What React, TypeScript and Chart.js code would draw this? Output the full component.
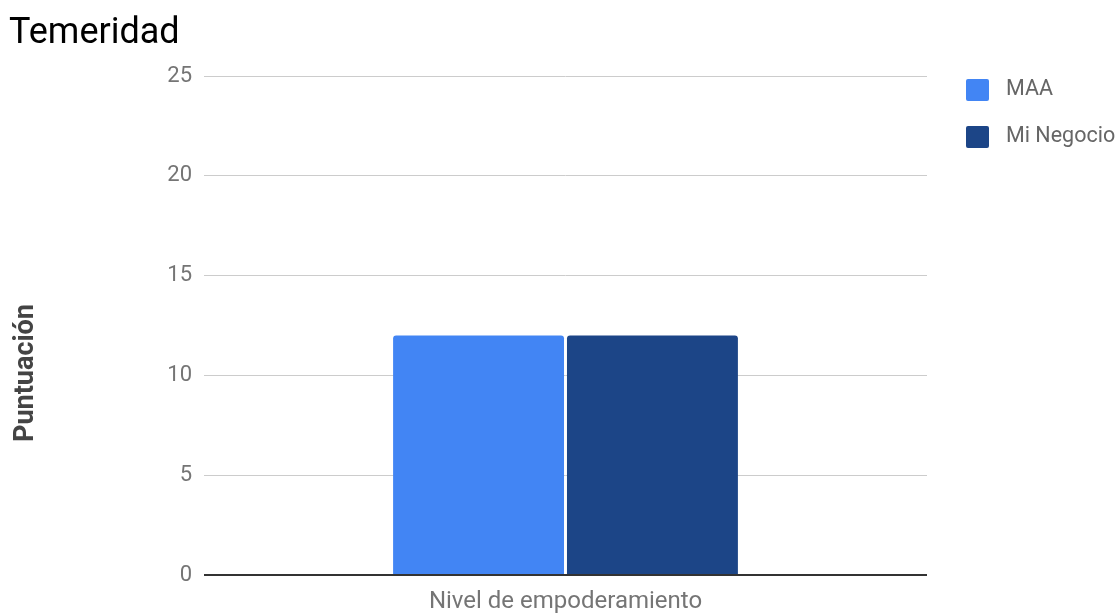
import React, { useEffect, useRef } from "react";
import { Chart, registerables } from "chart.js";

Chart.register(...registerables);

const chartTitle = "Temeridad";
const yAxisTitle = "Puntuación";
const categories = ["Nivel de empoderamiento"];
const seriesLabels = ["MAA", "Mi Negocio"];
const maaValues = [12];
const miNegocioValues = [12];
const seriesColors = ["#4285f4", "#1c4587"];
const yMin = 0;
const yMax = 25;
const yStep = 5;

const W = 1119;
const H = 614;
const FONT = "Roboto, 'Noto Sans', sans-serif";

const yTitlePlugin = {
  id: "yTitle",
  afterDraw(chart: any) {
    const ctx = chart.ctx;
    ctx.save();
    ctx.translate(26, 373);
    ctx.rotate(-Math.PI / 2);
    ctx.font = `bold 27px ${FONT}`;
    ctx.fillStyle = "#444444";
    ctx.textAlign = "center";
    ctx.textBaseline = "middle";
    ctx.fillText(yAxisTitle, 0, 0);
    ctx.restore();
  },
};

const legendPlugin = {
  id: "sideLegend",
  afterDraw(chart: any) {
    const ctx = chart.ctx;
    ctx.save();
    chart.data.datasets.forEach((ds: any, i: number) => {
      const x = 966;
      const cy = 90 + 47 * i;
      ctx.fillStyle = ds.backgroundColor;
      ctx.beginPath();
      (ctx as any).roundRect(x, cy - 11, 23, 22, 2);
      ctx.fill();
      ctx.font = `21.5px ${FONT}`;
      ctx.fillStyle = "#666666";
      ctx.textAlign = "left";
      ctx.textBaseline = "middle";
      ctx.fillText(ds.label, 1006, cy);
    });
    ctx.restore();
  },
};

export default function App() {
  const ref = useRef<HTMLCanvasElement>(null);
  useEffect(() => {
    if (!ref.current) return;
    const chart = new Chart(ref.current, {
      type: "bar",
      data: {
        labels: categories,
        datasets: [
          {
            label: seriesLabels[0],
            data: maaValues,
            backgroundColor: seriesColors[0],
            borderRadius: 3,
          },
          {
            label: seriesLabels[1],
            data: miNegocioValues,
            backgroundColor: seriesColors[1],
            borderRadius: 3,
          },
        ],
      },
      options: {
        responsive: false,
        animation: false,
        layout: { padding: { left: 9, right: W - 927, top: 0, bottom: 0 } },
        datasets: {
          bar: { categoryPercentage: 0.481, barPercentage: 0.983 },
        },
        plugins: {
          legend: { display: false },
          tooltip: { enabled: false },
          title: {
            display: true,
            text: chartTitle,
            align: "start",
            color: "#000000",
            font: { family: FONT, size: 36, weight: "normal" },
            padding: { top: 12, bottom: 21 },
          },
        },
        scales: {
          x: {
            grid: { display: false },
            border: { display: false },
            ticks: {
              color: "#757575",
              font: { family: FONT, size: 24 },
              padding: 5,
            },
            afterFit(scale: any) {
              scale.height = H - 575;
            },
          },
          y: {
            min: yMin,
            max: yMax,
            border: { display: false },
            grid: {
              drawTicks: false,
              color: (c: any) => (c.tick && c.tick.value === 0 ? "#333333" : "#cccccc"),
              lineWidth: (c: any) => (c.tick && c.tick.value === 0 ? 2 : 1),
            },
            ticks: {
              stepSize: yStep,
              color: "#757575",
              font: { family: FONT, size: 22 },
              padding: 12,
            },
            afterFit(scale: any) {
              scale.width = 204 - 9;
            },
          },
        },
      },
      plugins: [yTitlePlugin, legendPlugin],
    });
    return () => chart.destroy();
  }, []);
  return (
    <div style={{ position: "absolute", left: 0, top: 0, width: W, height: H, background: "#fff" }}>
      <canvas ref={ref} width={W} height={H} style={{ display: "block" }} />
    </div>
  );
}
